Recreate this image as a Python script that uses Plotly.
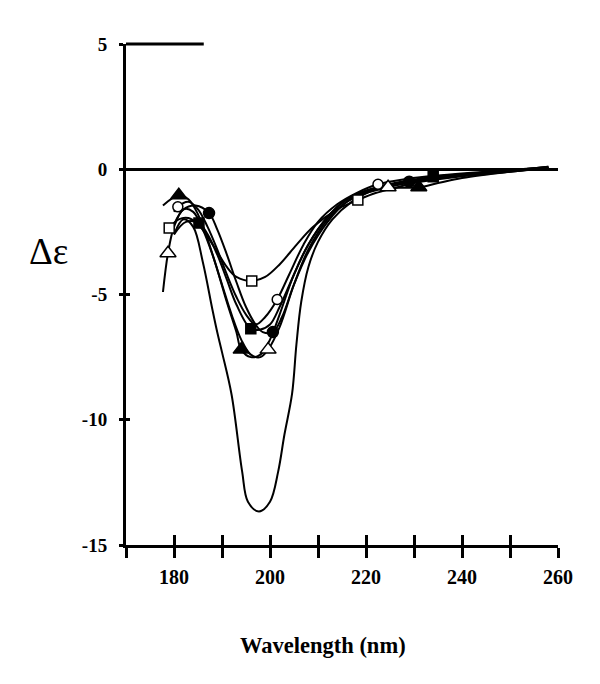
"""
CD spectra - delta epsilon vs wavelength
"""

import plotly.graph_objects as go

# curve data (wavelength nm, delta epsilon)
wl_sq_open = [179, 181, 183, 185, 187, 189, 191, 193, 196.2, 199, 202, 205.6, 209, 214, 218.3, 222, 226, 230, 235, 240, 250, 258]
de_sq_open = [-2.35, -2.0, -1.95, -2.2, -2.7, -3.3, -3.9, -4.3, -4.46, -4.3, -3.8, -3.0, -2.3, -1.6, -1.23, -0.95, -0.75, -0.55, -0.4, -0.28, -0.1, 0.05]

wl_ci_open = [180, 180.8, 183, 185, 187, 189, 191, 193, 195, 197, 199, 201.5, 204, 207, 210, 214, 218, 222.5, 228, 235, 245, 258]
de_ci_open = [-1.7, -1.5, -1.3, -1.6, -2.3, -3.2, -4.2, -5.1, -5.8, -6.2, -5.9, -5.2, -4.2, -3.0, -2.1, -1.4, -0.95, -0.6, -0.4, -0.25, -0.1, 0.05]

wl_ci_fill = [180, 182, 184.5, 187.3, 189, 191, 193, 195, 197, 198.5, 200.6, 202.5, 205, 208, 212, 216, 220, 224, 229, 235, 245, 258]
de_ci_fill = [-2.2, -1.6, -1.45, -1.75, -2.4, -3.4, -4.5, -5.5, -6.2, -6.5, -6.5, -5.9, -4.6, -3.3, -2.1, -1.3, -0.9, -0.65, -0.5, -0.35, -0.12, 0.08]

wl_sq_fill = [180, 182.5, 185.2, 187, 189, 191, 193, 196, 198, 200, 202, 205, 208, 212, 216, 220, 226, 234, 240, 250, 258]
de_sq_fill = [-2.6, -2.1, -2.15, -2.6, -3.4, -4.4, -5.4, -6.37, -6.4, -6.2, -5.5, -4.2, -3.0, -1.9, -1.2, -0.85, -0.55, -0.3, -0.2, -0.05, 0.1]

wl_tr_fill = [177.7, 181, 183, 185, 187, 189, 191, 193, 194, 196, 198, 200, 202, 205, 208, 212, 216, 220, 225, 231, 235, 240, 250, 258]
de_tr_fill = [-1.45, -1.04, -1.2, -1.8, -2.8, -4.0, -5.3, -6.5, -7.2, -7.5, -7.4, -6.8, -5.8, -4.2, -3.0, -1.9, -1.2, -0.9, -0.75, -0.72, -0.55, -0.35, -0.1, 0.05]

wl_tr_open = [177.7, 178.75, 180, 182, 184, 186, 188, 190, 192, 194, 196, 198, 199.6, 202, 205, 208, 212, 216, 220, 224.6, 230, 240, 250, 258]
de_tr_open = [-4.9, -3.35, -2.3, -1.6, -1.7, -2.4, -3.4, -4.6, -5.8, -6.8, -7.4, -7.5, -7.2, -6.3, -4.6, -3.2, -2.0, -1.3, -0.95, -0.72, -0.5, -0.25, -0.08, 0.05]

wl_deep = [180, 182, 184, 186, 188, 189, 190, 192, 194.2, 195.4, 197.7, 200, 201.7, 203, 204.6, 205.5, 206.5, 208, 210, 213, 217, 222, 230, 240, 250, 258]
de_deep = [-2.6, -2.0, -2.3, -3.7, -5.6, -6.5, -7.3, -9.0, -12.07, -13.27, -13.66, -13.27, -12.07, -10.6, -8.96, -7.0, -5.3, -3.9, -2.9, -2.0, -1.3, -0.8, -0.45, -0.2, -0.05, 0.1]

# marker points
mk_sq_open = ([179, 196.2, 218.3], [-2.35, -4.46, -1.23])
mk_ci_open = ([180.8, 201.5, 222.5], [-1.5, -5.2, -0.6])
mk_ci_fill = ([187.3, 200.6, 229], [-1.75, -6.5, -0.5])
mk_sq_fill = ([185.2, 196, 234], [-2.15, -6.37, -0.3])
mk_tr_fill = ([181, 194, 231], [-1.04, -7.2, -0.72])
mk_tr_open = ([178.75, 199.6, 224.6], [-3.35, -7.2, -0.72])

x_ticks = [170, 180, 190, 200, 210, 220, 230, 240, 250, 260]
x_labels = ['', '180', '', '200', '', '220', '', '240', '', '260']
y_ticks = [5, 0, -5, -10, -15]
y_labels = ['5', '0', '-5', '-10', '-15']

font_fam = 'Liberation Serif'

fig = go.Figure()

curves = [
    (wl_deep, de_deep),
    (wl_sq_open, de_sq_open),
    (wl_ci_open, de_ci_open),
    (wl_ci_fill, de_ci_fill),
    (wl_sq_fill, de_sq_fill),
    (wl_tr_fill, de_tr_fill),
    (wl_tr_open, de_tr_open),
]
for wl, de in curves:
    fig.add_trace(go.Scatter(
        x=wl, y=de, mode='lines',
        line=dict(color='black', width=2, shape='spline', smoothing=1.0),
        showlegend=False, hoverinfo='skip'
    ))

markers = [
    (mk_sq_open, 'square', 'white', 10),
    (mk_ci_open, 'circle', 'white', 10),
    (mk_ci_fill, 'circle', 'black', 11),
    (mk_sq_fill, 'square', 'black', 10),
    (mk_tr_fill, 'triangle-up', 'black', 14),
    (mk_tr_open, 'triangle-up', 'white', 14),
]
for (mx, my), sym, fill, size in markers:
    fig.add_trace(go.Scatter(
        x=mx, y=my, mode='markers',
        marker=dict(symbol=sym, color=fill, size=size, line=dict(color='black', width=1.5)),
        showlegend=False
    ))

# top line at 5 (paper refs so it is not clipped)
fig.add_shape(type='line', x0=0, x1=0.18, y0=1, y1=1, xref='paper', yref='paper',
              line=dict(color='black', width=3))

# axis titles
fig.add_annotation(text='<b>Wavelength (nm)</b>', xref='x', yref='paper', x=211, y=0,
                   yshift=-100, showarrow=False, yanchor='middle',
                   font=dict(family=font_fam, size=22.5, color='black'))
fig.add_annotation(text='Δε', xref='paper', yref='paper', x=-0.18, y=0.585,
                   showarrow=False, xanchor='center', yanchor='middle',
                   font=dict(family=font_fam, size=37, color='black'))

x_font = dict(family=font_fam, size=20, color='black', weight='bold')
y_font = dict(family=font_fam, size=19, color='black', weight='bold')

fig.update_layout(
    width=600, height=684,
    margin=dict(l=118, r=50, t=36, b=147),
    plot_bgcolor='white', paper_bgcolor='white',
    showlegend=False,
    xaxis=dict(
        range=[170, 260], tickvals=x_ticks, ticktext=x_labels,
        ticks='outside', ticklen=10, tickwidth=3, tickcolor='black',
        showline=True, linecolor='black', linewidth=3,
        showgrid=False, zeroline=False, automargin=False,
        tickfont=x_font, ticklabelstandoff=2,
    ),
    xaxis2=dict(
        range=[170, 260], tickvals=x_ticks, ticktext=['' for _ in x_ticks],
        overlaying='x', anchor='y', side='bottom',
        ticks='inside', ticklen=10, tickwidth=3, tickcolor='black',
        showline=False, showgrid=False, zeroline=False,
    ),
    yaxis=dict(
        range=[-15, 5], tickvals=y_ticks, ticktext=y_labels,
        ticks='outside', ticklen=4, tickwidth=3, tickcolor='black',
        showline=True, linecolor='black', linewidth=3,
        showgrid=False, zeroline=True, zerolinecolor='black', zerolinewidth=3,
        automargin=False, tickfont=y_font, ticklabelstandoff=8,
    ),
    yaxis2=dict(
        range=[-15, 5], tickvals=y_ticks, ticktext=['' for _ in y_ticks],
        overlaying='y', anchor='x', side='left',
        ticks='inside', ticklen=4, tickwidth=3, tickcolor='black',
        showline=False, showgrid=False, zeroline=False,
    ),
)

# dummy trace to activate the secondary axes
fig.add_trace(go.Scatter(x=[None], y=[None], xaxis='x2', yaxis='y2', showlegend=False))

fig.write_html("out.html")
